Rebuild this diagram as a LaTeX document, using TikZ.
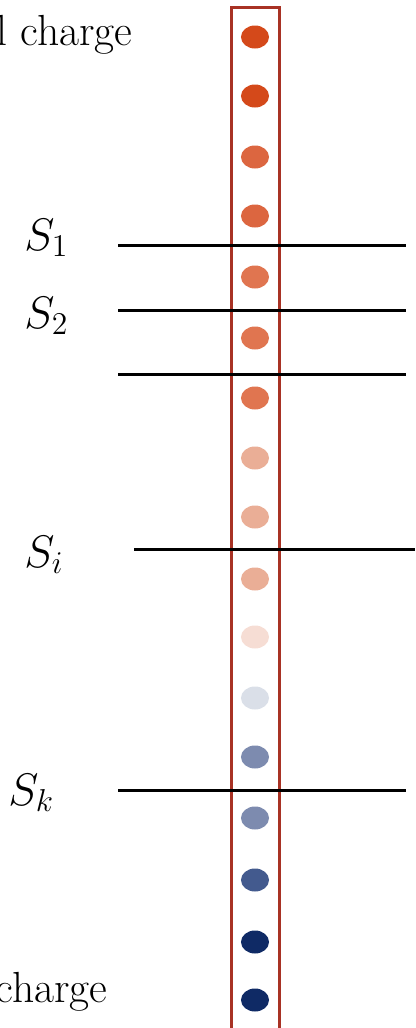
\documentclass[tikz,border=0pt]{standalone}
\usepackage{tikz}
\definecolor{boxred}{HTML}{A83224}
\definecolor{c1}{HTML}{D4491A}
\definecolor{c2}{HTML}{DC6640}
\definecolor{c3}{HTML}{E07550}
\definecolor{c4}{HTML}{EAAE96}
\definecolor{c5}{HTML}{F6DDD4}
\definecolor{c6}{HTML}{DADFE8}
\definecolor{c7}{HTML}{7D8BAF}
\definecolor{c8}{HTML}{435A8E}
\definecolor{c9}{HTML}{0F2A65}
\begin{document}
\begin{tikzpicture}[x=1pt,y=-1pt,
  cut/.style={line width=3pt,black},
  lbl/.style={font=\huge,scale=2.2,inner sep=0pt,anchor=base west},
  txt/.style={font=\huge,scale=2.1,inner sep=0pt}]
\useasboundingbox (0,0) rectangle (415,1028);
\clip (0,0) rectangle (415,1028);
\node[draw=boxred,line width=2.5pt,minimum width=48pt,minimum height=1040pt,inner sep=0pt,anchor=north west] (col) at (230,6) {};
\foreach \y/\c [count=\i] in {37/c1,96/c1,157/c2,216/c2,277/c3,338/c3,398/c3,458/c4,517/c4,579/c4,637/c5,698/c6,757/c7,818/c7,880/c8,942/c9,1000/c9}
  \node[circle,fill=\c,draw=none,inner sep=0pt,minimum size=23pt,xscale=1.22] (d\i) at (255,\y) {};
\coordinate (a1) at (118,245); \coordinate (b1) at (406,245);
\coordinate (a2) at (118,310); \coordinate (b2) at (406,310);
\coordinate (a3) at (118,374); \coordinate (b3) at (406,374);
\coordinate (a4) at (134,549); \coordinate (b4) at (415,549);
\coordinate (a5) at (118,790); \coordinate (b5) at (406,790);
\draw[cut] (a1) -- (b1);
\draw[cut] (a2) -- (b2);
\draw[cut] (a3) -- (b3);
\draw[cut] (a4) -- (b4);
\draw[cut] (a5) -- (b5);
\node[lbl] (s1) at (24,250) {$S_1$};
\node[lbl] (s2) at (24,328) {$S_2$};
\node[lbl] (si) at (24,567) {$S_i$};
\node[lbl] (sk) at (8,805) {$S_k$};
\node[txt,anchor=base west] (top) at (-4,45) {l charge};
\node[txt,anchor=base east] (bot) at (108,1002) {charge};
\end{tikzpicture}
\end{document}
